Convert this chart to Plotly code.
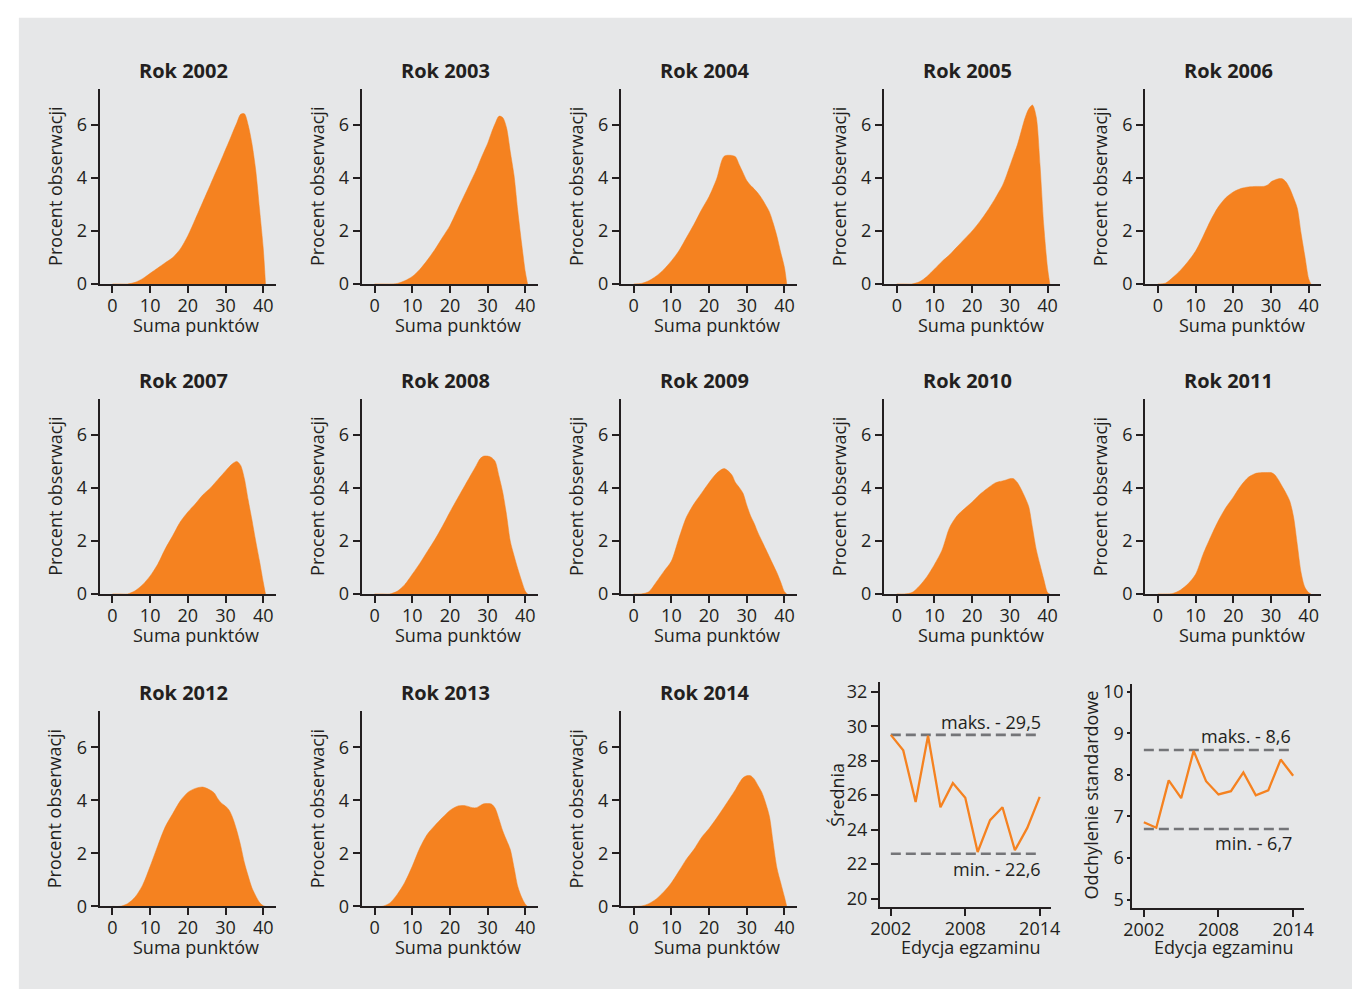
import plotly.graph_objects as go

# ---------------- data ----------------
years = [2002, 2003, 2004, 2005, 2006, 2007, 2008, 2009, 2010, 2011, 2012, 2013, 2014]

score = [0, 2, 4, 6, 8, 10, 12, 14, 16, 18, 20, 22, 24, 26,
         27, 28, 29, 30, 31, 32, 33, 34, 35, 36, 37, 38, 39, 40, 40.6]

d2002 = [0, 0, 0, 0.06, 0.2, 0.4, 0.6, 0.8, 1.0, 1.32, 1.82, 2.45, 3.1, 3.75,
         4.08, 4.4, 4.73, 5.07, 5.4, 5.75, 6.08, 6.4, 6.42, 6.0, 5.3, 4.3, 2.85, 1.35, 0]
d2003 = [0, 0, 0, 0.02, 0.12, 0.28, 0.55, 0.9, 1.3, 1.75, 2.2, 2.8, 3.4, 4.0,
         4.3, 4.65, 4.98, 5.3, 5.7, 6.05, 6.33, 6.28, 5.9, 5.0, 4.1, 2.75, 1.55, 0.45, 0]
d2004 = [0, 0.02, 0.12, 0.3, 0.55, 0.87, 1.25, 1.75, 2.25, 2.8, 3.3, 3.96, 4.82, 4.85,
         4.8, 4.5, 4.2, 3.9, 3.72, 3.58, 3.42, 3.22, 2.98, 2.72, 2.3, 1.8, 1.2, 0.62, 0]
d2005 = [0, 0, 0, 0.08, 0.28, 0.56, 0.85, 1.1, 1.4, 1.7, 2.0, 2.35, 2.75, 3.2,
         3.45, 3.7, 4.05, 4.45, 4.85, 5.25, 5.75, 6.25, 6.6, 6.75, 6.3, 4.5, 2.2, 0.6, 0]
d2006 = [0, 0.03, 0.25, 0.52, 0.85, 1.24, 1.8, 2.4, 2.9, 3.25, 3.47, 3.6, 3.66, 3.68,
         3.68, 3.68, 3.72, 3.85, 3.92, 3.97, 3.97, 3.85, 3.6, 3.25, 2.85, 1.9, 1.05, 0.2, 0]
d2007 = [0, 0, 0, 0.12, 0.35, 0.68, 1.12, 1.7, 2.2, 2.72, 3.09, 3.4, 3.74, 4.0,
         4.16, 4.32, 4.48, 4.64, 4.8, 4.93, 5.0, 4.85, 4.35, 3.55, 2.8, 2.0, 1.25, 0.45, 0]
d2008 = [0, 0, 0, 0.1, 0.35, 0.74, 1.15, 1.6, 2.05, 2.55, 3.09, 3.6, 4.1, 4.6,
         4.85, 5.1, 5.2, 5.2, 5.15, 5.0, 4.45, 3.84, 3.0, 2.0, 1.45, 0.95, 0.5, 0.1, 0]
d2009 = [0, 0, 0.08, 0.45, 0.85, 1.24, 2.1, 2.9, 3.4, 3.8, 4.2, 4.55, 4.73, 4.5,
         4.2, 4.02, 3.8, 3.35, 2.95, 2.65, 2.3, 2.0, 1.7, 1.4, 1.1, 0.8, 0.45, 0.08, 0]
d2010 = [0, 0, 0.05, 0.3, 0.65, 1.11, 1.65, 2.5, 2.95, 3.22, 3.47, 3.75, 3.98, 4.18,
         4.23, 4.26, 4.3, 4.35, 4.35, 4.2, 3.95, 3.65, 3.3, 2.5, 1.68, 1.1, 0.55, 0.05, 0]
d2011 = [0, 0, 0.02, 0.15, 0.38, 0.74, 1.5, 2.15, 2.75, 3.25, 3.65, 4.08, 4.4, 4.55,
         4.57, 4.58, 4.58, 4.58, 4.5, 4.3, 4.05, 3.8, 3.5, 2.9, 1.85, 0.8, 0.25, 0.05, 0]
d2012 = [0, 0, 0.1, 0.35, 0.8, 1.51, 2.28, 3.0, 3.5, 3.98, 4.3, 4.45, 4.5, 4.38,
         4.28, 4.05, 3.88, 3.78, 3.62, 3.3, 2.85, 2.3, 1.65, 1.15, 0.7, 0.4, 0.15, 0.02, 0]
d2013 = [0, 0, 0.12, 0.45, 0.9, 1.51, 2.2, 2.72, 3.05, 3.35, 3.62, 3.78, 3.8, 3.72,
         3.72, 3.8, 3.87, 3.88, 3.86, 3.7, 3.3, 2.85, 2.5, 2.15, 1.47, 0.75, 0.35, 0.08, 0]
d2014 = [0, 0.01, 0.1, 0.28, 0.55, 0.89, 1.33, 1.78, 2.15, 2.6, 2.94, 3.33, 3.75, 4.18,
         4.4, 4.65, 4.85, 4.93, 4.93, 4.8, 4.55, 4.3, 3.9, 3.4, 2.4, 1.45, 0.89, 0.35, 0]

densities = [d2002, d2003, d2004, d2005, d2006, d2007, d2008, d2009,
             d2010, d2011, d2012, d2013, d2014]

editions = [2002, 2003, 2004, 2005, 2006, 2007, 2008, 2009, 2010, 2011, 2012, 2013, 2014]
means = [29.5, 28.6, 25.6, 29.45, 25.3, 26.7, 25.85, 22.7, 24.55, 25.3, 22.8, 24.1, 25.9]
sds = [6.86, 6.73, 7.87, 7.44, 8.58, 7.85, 7.53, 7.61, 8.06, 7.51, 7.63, 8.37, 7.98]

mean_max, mean_min = 29.5, 22.6
sd_max, sd_min = 8.6, 6.7
mean_max_label, mean_min_label = "maks. - 29,5", "min. - 22,6"
sd_max_label, sd_min_label = "maks. - 8,6", "min. - 6,7"

density_xticks = [0, 10, 20, 30, 40]
density_yticks = [0, 2, 4, 6]
mean_yticks = [20, 22, 24, 26, 28, 30, 32]
sd_yticks = [5, 6, 7, 8, 9, 10]
edition_ticks = [2002, 2008, 2014]

# ---------------- styling / geometry ----------------
W, H = 1362, 1000
ORANGE = "#F58220"
INK = "#231f20"
DASH = "#747578"
BG = "#e6e7e8"
FONT = "Open Sans"
FS = 18


def fx(px):
    return px / W


def fy(py):
    return 1 - py / H


col_x0 = [91, 357, 620, 887, 1152]
row_bottom = [283.5, 598.5, 916]
PW, PH = 179, 198.5

fig = go.Figure()
layout = dict(
    width=W, height=H,
    margin=dict(l=0, r=0, t=0, b=0),
    paper_bgcolor="white",
    plot_bgcolor="rgba(0,0,0,0)",
    showlegend=False,
    font=dict(family=FONT, size=FS, color=INK),
    shapes=[dict(type="rect", xref="paper", yref="paper",
                 x0=fx(9), x1=1.0, y0=0.0, y1=fy(13),
                 fillcolor=BG, line=dict(width=0), layer="below")],
    annotations=[],
)

axis_common = dict(showline=True, linecolor=INK, linewidth=2, ticks="outside",
                   ticklen=7, tickwidth=2, tickcolor=INK, showgrid=False,
                   zeroline=False, fixedrange=True,
                   tickfont=dict(family=FONT, size=FS, color=INK))
xaxis_common = dict(axis_common, ticklabelstandoff=-3)

ann = layout["annotations"]


def label(text, px, py, angle=0, size=FS):
    ann.append(dict(text=text, xref="paper", yref="paper", x=fx(px), y=fy(py),
                    xanchor="center", yanchor="middle", textangle=angle,
                    showarrow=False, font=dict(family=FONT, size=size, color=INK)))


for i, (yr, dens) in enumerate(zip(years, densities)):
    r, c = divmod(i, 5)
    k = i + 1
    xname = "xaxis" if k == 1 else f"xaxis{k}"
    yname = "yaxis" if k == 1 else f"yaxis{k}"
    xref = "x" if k == 1 else f"x{k}"
    yref = "y" if k == 1 else f"y{k}"
    x0 = col_x0[c]
    yb = row_bottom[r]
    layout[xname] = dict(xaxis_common, domain=[fx(x0), fx(x0 + PW)], anchor=yref,
                         range=[-3.4, 43.4], tickvals=density_xticks)
    layout[yname] = dict(axis_common, domain=[fy(yb), fy(yb - PH)], anchor=xref,
                         range=[0, 7.37], tickvals=density_yticks)
    fig.add_trace(go.Scatter(
        x=score, y=dens, mode="lines", fill="tozeroy", fillcolor=ORANGE,
        line=dict(color=ORANGE, width=0.5, shape="spline", smoothing=0.8),
        xaxis=xref, yaxis=yref, hoverinfo="skip"))
    label(f"<b>Rok {yr}</b>", x0 + 85, yb - 217, size=20)
    label("Suma punktów", x0 + 98, yb + 41.5)
    label("Procent obserwacji", x0 - 46, yb - 99, angle=-90)

# ---- mean chart (axis 14) ----
layout["xaxis14"] = dict(xaxis_common, domain=[fx(883), fx(1057)], anchor="y14",
                         range=[2001.13, 2014.95], tickvals=edition_ticks)
layout["yaxis14"] = dict(axis_common, domain=[fy(917), fy(688)], anchor="x14",
                         range=[19.49, 32.57], tickvals=mean_yticks)
for v in (mean_max, mean_min):
    fig.add_trace(go.Scatter(x=[editions[0], editions[-1]], y=[v, v], mode="lines",
                             line=dict(color=DASH, width=2.6, dash="10px,5px"),
                             xaxis="x14", yaxis="y14", hoverinfo="skip"))
fig.add_trace(go.Scatter(x=editions, y=means, mode="lines",
                         line=dict(color=ORANGE, width=2.3),
                         xaxis="x14", yaxis="y14", hoverinfo="skip"))
ann.append(dict(text=mean_max_label, xref="x14", yref="y14", x=editions[-1], y=mean_max,
                xanchor="right", yanchor="middle", yshift=13, xshift=3,
                showarrow=False, font=dict(family=FONT, size=FS, color=INK)))
ann.append(dict(text=mean_min_label, xref="x14", yref="y14", x=editions[-1], y=mean_min,
                xanchor="right", yanchor="middle", yshift=-15, xshift=3,
                showarrow=False, font=dict(family=FONT, size=FS, color=INK)))
label("Średnia", 839, 803, angle=-90)
label("Edycja egzaminu", 974.5, 957)

# ---- sd chart (axis 15) ----
layout["xaxis15"] = dict(xaxis_common, domain=[fx(1139), fx(1313)], anchor="y15",
                         range=[2001.07, 2014.85], tickvals=edition_ticks)
layout["yaxis15"] = dict(axis_common, domain=[fy(918), fy(690)], anchor="x15",
                         range=[4.79, 10.19], tickvals=sd_yticks, ticklen=3)
for v in (sd_max, sd_min):
    fig.add_trace(go.Scatter(x=[editions[0], editions[-1]], y=[v, v], mode="lines",
                             line=dict(color=DASH, width=2.6, dash="10px,5px"),
                             xaxis="x15", yaxis="y15", hoverinfo="skip"))
fig.add_trace(go.Scatter(x=editions, y=sds, mode="lines",
                         line=dict(color=ORANGE, width=2.3),
                         xaxis="x15", yaxis="y15", hoverinfo="skip"))
ann.append(dict(text=sd_max_label, xref="x15", yref="y15", x=editions[-1], y=sd_max,
                xanchor="right", yanchor="middle", yshift=14, xshift=0,
                showarrow=False, font=dict(family=FONT, size=FS, color=INK)))
ann.append(dict(text=sd_min_label, xref="x15", yref="y15", x=editions[-1], y=sd_min,
                xanchor="right", yanchor="middle", yshift=-14, xshift=1,
                showarrow=False, font=dict(family=FONT, size=FS, color=INK)))
label("Odchylenie standardowe", 1097, 802.5, angle=-90)
label("Edycja egzaminu", 1231.7, 957)

fig.update_layout(**layout)
fig.write_html("out.html", config={"displayModeBar": False},
               post_script="document.body.style.margin='0';")
